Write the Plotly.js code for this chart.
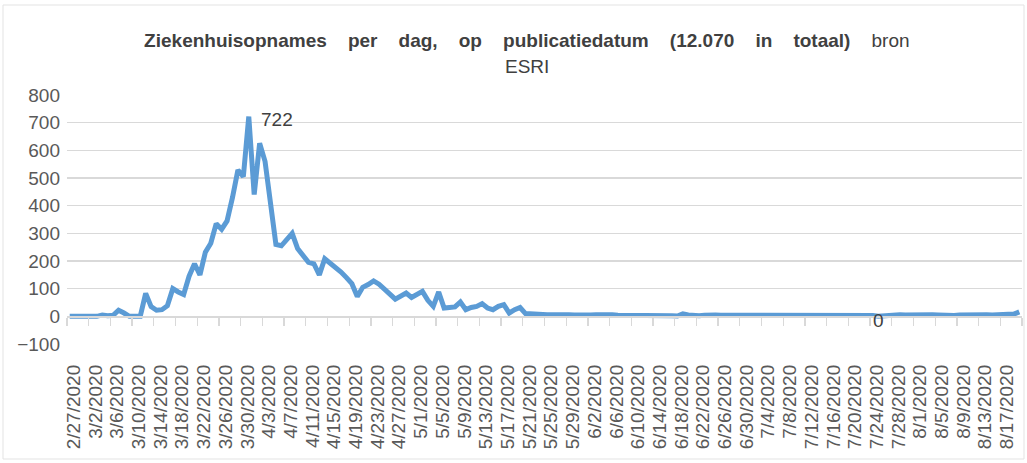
<!DOCTYPE html>
<html><head><meta charset="utf-8">
<script src="https://cdn.plot.ly/plotly-3.0.1.min.js"></script>
<style>html,body{margin:0;padding:0;background:#fff}#chart{width:1027px;height:463px}</style>
</head><body><div id="chart"></div>
<script>
// ---- data ----
const startDate = '2/27/2020';
const nDays = 176;
const admissions = [
  0,0,0,0,0,0,5,2,4,22,
  12,0,0,0,83,35,22,24,38,100,
  88,79,145,190,150,232,264,335,315,345,
  430,529,505,722,440,626,560,400,260,255,
  275,300,245,220,195,190,150,208,192,178,
  160,140,118,72,105,115,128,116,100,80,
  62,72,84,68,80,90,58,36,88,30,
  32,34,52,24,32,36,46,30,24,36,
  42,12,24,32,10,8,6,5,6,6,
  7,9,6,5,4,5,5,6,7,7,
  6,4,4,3,4,4,3,5,6,6,
  5,2,1,9,5,3,2,4,6,5,
  4,4,3,4,3,2,3,2,3,2,
  3,4,4,3,4,4,2,3,4,4,
  3,2,4,5,4,3,4,5,3,0,
  2,3,6,6,5,6,5,7,7,6,
  5,3,2,3,5,6,7,7,6,6,
  5,6,6,5,8,16
];
const tickLabels = ['2/27/2020','3/2/2020','3/6/2020','3/10/2020','3/14/2020','3/18/2020','3/22/2020','3/26/2020','3/30/2020',
  '4/3/2020','4/7/2020','4/11/2020','4/15/2020','4/19/2020','4/23/2020','4/27/2020','5/1/2020','5/5/2020','5/9/2020',
  '5/13/2020','5/17/2020','5/21/2020','5/25/2020','5/29/2020','6/2/2020','6/6/2020','6/10/2020','6/14/2020','6/18/2020',
  '6/22/2020','6/26/2020','6/30/2020','7/4/2020','7/8/2020','7/12/2020','7/16/2020','7/20/2020','7/24/2020','7/28/2020',
  '8/1/2020','8/5/2020','8/9/2020','8/13/2020','8/17/2020'];
const labelledDays = ['3/31/2020', '7/25/2020'];
const titleLine1 = 'Ziekenhuisopnames per dag, op publicatiedatum (12.070 in totaal)';
const titleSource = 'bron';
const titleLine2 = 'ESRI';

// ---- categories (one per day) ----
const [sm, sd, sy] = startDate.split('/').map(Number);
const days = [];
for (let k = 0; k < nDays; k++) {
  const d = new Date(Date.UTC(sy, sm - 1, sd + k));
  days.push((d.getUTCMonth() + 1) + '/' + d.getUTCDate() + '/' + d.getUTCFullYear());
}
const boundaryTicks = [];
for (let k = 0; k <= nDays; k += 4) boundaryTicks.push(k - 0.5);

const FONT = '"Liberation Sans", Arial, sans-serif';
const GRID = '#d9d9d9';
const sp = '\u00a0\u00a0\u00a0\u00a0';
const titleText = '<b>' + titleLine1.split(' ').join(sp) + '</b>' + sp + titleSource;

const traces = [
  { type: 'scatter', x: [boundaryTicks[0], boundaryTicks[boundaryTicks.length - 1]], y: [0, 0],
    xaxis: 'x2', yaxis: 'y', mode: 'lines', line: { color: 'rgba(0,0,0,0)', width: 0 },
    hoverinfo: 'skip', showlegend: false },
  { type: 'scatter', x: days, y: admissions, mode: 'lines',
    line: { color: '#5B9BD5', width: 5, shape: 'linear' }, showlegend: false, hoverinfo: 'x+y' }
];

const annotations = labelledDays.map((d, n) => {
  const idx = days.indexOf(d);
  return n === 0
    ? { x: d, y: admissions[idx], xref: 'x', yref: 'y', text: String(admissions[idx]), showarrow: false,
        xanchor: 'left', yanchor: 'middle', xshift: 10, yshift: -3,
        font: { family: FONT, size: 19, color: '#404040' } }
    : { x: d, y: admissions[idx], xref: 'x', yref: 'y', text: String(admissions[idx]), showarrow: false,
        xanchor: 'center', yanchor: 'middle', xshift: 0, yshift: -4,
        font: { family: FONT, size: 19, color: '#404040' } };
});
annotations.push({ xref: 'paper', yref: 'paper', x: (527 - 67) / 955, y: 1 + (95 - 67) / 249,
  xanchor: 'center', yanchor: 'middle', showarrow: false, text: titleLine2,
  font: { family: FONT, size: 19, color: '#404040' } });

const layout = {
  width: 1027, height: 463,
  margin: { l: 67, r: 5, t: 95, b: 119, pad: 0 },
  paper_bgcolor: '#ffffff', plot_bgcolor: '#ffffff',
  font: { family: FONT, color: '#595959' },
  title: { text: titleText, xref: 'container', x: 0.513, xanchor: 'center',
           yref: 'container', y: 1 - 40 / 463, yanchor: 'middle',
           font: { family: FONT, size: 19, color: '#404040' } },
  xaxis: { type: 'category', range: [-0.5, nDays - 0.5], tickmode: 'array', tickvals: tickLabels, ticktext: tickLabels,
           tickangle: -90, ticks: '', showgrid: false, showline: false, zeroline: false,
           tickfont: { family: FONT, size: 19, color: '#595959' }, ticklabelstandoff: 16, ticklabelshift: 4 },
  xaxis2: { type: 'linear', overlaying: 'x', anchor: 'free', position: 100 / 900, side: 'bottom',
            range: [-0.5, nDays - 0.5], tickmode: 'array', tickvals: boundaryTicks, showticklabels: false,
            ticks: 'outside', ticklen: 8, tickwidth: 1.3, tickcolor: GRID,
            showline: true, linecolor: GRID, linewidth: 1.3, showgrid: false, zeroline: false },
  yaxis: { range: [-100, 800], dtick: 100, tick0: 0, showgrid: true, gridcolor: GRID, gridwidth: 1.3,
           zeroline: false, showline: false, ticks: '',
           tickfont: { family: FONT, size: 19, color: '#595959' }, ticklabelstandoff: 6 },
  annotations: annotations,
  shapes: [
    { type: 'rect', xref: 'paper', yref: 'paper', x0: -64 / 955, x1: 1 + 2 / 955, y0: -115 / 249, y1: 1 + 90 / 249,
      line: { color: '#e3e3e3', width: 1 }, fillcolor: 'rgba(0,0,0,0)', layer: 'below' }
  ]
};

Plotly.newPlot('chart', traces, layout, { displayModeBar: false, staticPlot: true });
</script>
</body></html>
